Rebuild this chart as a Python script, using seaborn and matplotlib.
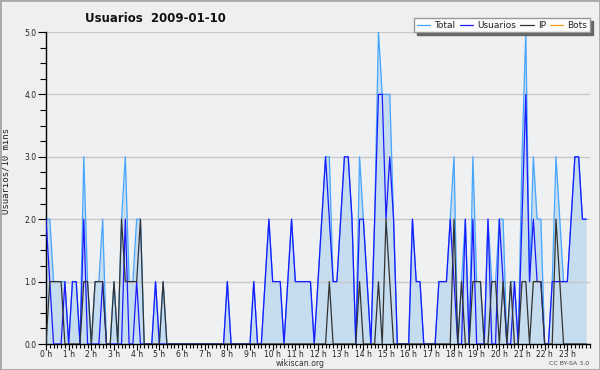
import matplotlib
matplotlib.use("Agg")
import matplotlib.pyplot as plt
import seaborn as sns
import pandas as pd
from matplotlib.patches import Rectangle

# one value per 10 minute slot, 2009-01-10 (6 per hour)
slots = list(range(144))
hour_ticks = list(range(0, 144, 6))
hour_labels = [f"{h} h" for h in range(24)]
y_ticks = [0, 1, 2, 3, 4, 5]
y_labels = ["0.0", "1.0", "2.0", "3.0", "4.0", "5.0"]

total = [2, 2, 1, 1, 1, 1,  0, 1, 1, 0, 3, 1,  0, 1, 1, 2, 0, 0,  1, 0, 2, 3, 1, 1,
         2, 2, 0, 0, 0, 1,  0, 1, 0, 0, 0, 0,  0, 0, 0, 0, 0, 0,  0, 0, 0, 0, 0, 0,
         1, 0, 0, 0, 0, 0,  0, 1, 0, 0, 1, 2,  1, 1, 1, 0, 1, 2,  1, 1, 1, 1, 1, 0,
         1, 2, 3, 3, 1, 1,  2, 3, 3, 2, 0, 3,  2, 1, 0, 2, 5, 4,  4, 4, 2, 0, 0, 0,
         0, 2, 1, 1, 0, 0,  0, 0, 1, 1, 1, 2,  3, 0, 1, 2, 0, 3,  1, 1, 0, 2, 1, 1,
         2, 2, 0, 1, 1, 0,  3, 5, 1, 3, 2, 2,  0, 0, 1, 3, 2, 1,  1, 2, 3, 3, 2, 2]

usuarios = [2, 1, 0, 0, 0, 1,  0, 1, 1, 0, 2, 0,  0, 0, 0, 1, 0, 0,  0, 0, 0, 2, 0, 0,
            1, 0, 0, 0, 0, 1,  0, 0, 0, 0, 0, 0,  0, 0, 0, 0, 0, 0,  0, 0, 0, 0, 0, 0,
            1, 0, 0, 0, 0, 0,  0, 1, 0, 0, 1, 2,  1, 1, 1, 0, 1, 2,  1, 1, 1, 1, 1, 0,
            1, 2, 3, 2, 1, 1,  2, 3, 3, 2, 0, 2,  2, 1, 0, 2, 4, 4,  2, 3, 2, 0, 0, 0,
            0, 2, 1, 1, 0, 0,  0, 0, 1, 1, 1, 2,  1, 0, 0, 2, 0, 2,  0, 0, 0, 2, 0, 0,
            2, 1, 0, 0, 1, 0,  2, 4, 1, 2, 1, 1,  0, 0, 1, 1, 1, 1,  1, 2, 3, 3, 2, 2]

ip = [0, 1, 1, 1, 1, 0,  0, 0, 0, 0, 1, 1,  0, 1, 1, 1, 0, 0,  1, 0, 2, 1, 1, 1,
      1, 2, 0, 0, 0, 0,  0, 1, 0, 0, 0, 0,  0, 0, 0, 0, 0, 0,  0, 0, 0, 0, 0, 0,
      0, 0, 0, 0, 0, 0,  0, 0, 0, 0, 0, 0,  0, 0, 0, 0, 0, 0,  0, 0, 0, 0, 0, 0,
      0, 0, 0, 1, 0, 0,  0, 0, 0, 0, 0, 1,  0, 0, 0, 0, 1, 0,  2, 1, 0, 0, 0, 0,
      0, 0, 0, 0, 0, 0,  0, 0, 0, 0, 0, 0,  2, 0, 1, 0, 0, 1,  1, 1, 0, 0, 1, 1,
      0, 1, 0, 1, 0, 0,  1, 1, 0, 1, 1, 1,  0, 0, 0, 2, 1, 0,  0, 0, 0, 0, 0, 0]

bots = [0] * 144

df = pd.DataFrame({"slot": slots, "Total": total, "Usuarios": usuarios,
                   "IP": ip, "Bots": bots})

sns.set_style("white")
plt.rcParams["font.family"] = ["DejaVu Sans"]

fig = plt.figure(figsize=(6, 3.7), dpi=100, facecolor="#efefef")
ax = fig.add_axes([46 / 600, 26 / 370, 544 / 600, 312 / 370])
ax.set_facecolor("#eef0f2")

ax.fill_between(df["slot"], df["Total"], color="#c6ddf0", linewidth=0, zorder=1)
sns.lineplot(data=df, x="slot", y="Bots", color="#ff9d1a", lw=0.9, ax=ax, zorder=0.5)
sns.lineplot(data=df, x="slot", y="Total", color="#45a5ff", lw=0.9, ax=ax, zorder=2)
sns.lineplot(data=df, x="slot", y="Usuarios", color="#1a1aff", lw=0.9, ax=ax, zorder=3)
sns.lineplot(data=df, x="slot", y="IP", color="#333333", lw=0.9, ax=ax, zorder=4)

ax.set_xlim(0, 144)
ax.set_ylim(0, 5)
ax.set_xticks(hour_ticks)
ax.set_xticklabels(hour_labels)
ax.set_xticks(range(145), minor=True)
ax.set_yticks(y_ticks)
ax.set_yticklabels(y_labels)
ax.set_yticks([v / 4 for v in range(21)], minor=True)
ax.tick_params(axis="x", which="major", length=4, width=0.8, pad=0.5,
               labelsize=5.5, color="black", direction="out", bottom=True)
ax.tick_params(axis="x", which="minor", length=3, width=0.8, color="black",
               direction="out", bottom=True)
ax.tick_params(axis="y", which="major", length=6, width=0.8, pad=1,
               labelsize=5.5, color="black", direction="out", left=True)
ax.tick_params(axis="y", which="minor", length=4, width=0.8, color="black",
               direction="out", left=True)
for lab in ax.get_xticklabels() + ax.get_yticklabels():
    lab.set_color("#222222")

ax.set_axisbelow("line")
ax.yaxis.grid(True, color="#c8c8c8", lw=1)
ax.xaxis.grid(False)
sns.despine(ax=ax)
for s in ["left", "bottom"]:
    ax.spines[s].set_color("black")
    ax.spines[s].set_linewidth(1)

ax.set_xlabel("")
ax.set_ylabel("Usuarios/10 mins", family="DejaVu Sans Mono", fontsize=6.5, color="#222222")
ax.yaxis.set_label_coords(-0.066, 0.555)

fig.text(85 / 600, 1 - 18.5 / 370, "Usuarios  2009-01-10", fontsize=8.5,
         fontweight="bold", ha="left", va="center", color="#111111")

handles = [plt.Line2D([], [], color=c, lw=0.9) for c in ["#45a5ff", "#1a1aff", "#333333", "#ff9d1a"]]
leg = fig.legend(handles, ["Total", "Usuarios", "IP", "Bots"], loc="upper right",
                 bbox_to_anchor=(590 / 600, 1 - 18 / 370), ncol=4, fontsize=6.5,
                 handlelength=1.5, handletextpad=0.45, columnspacing=0.45,
                 borderpad=0.3, borderaxespad=0, fancybox=False, frameon=True,
                 edgecolor="#999999", facecolor="#fbfbfb", framealpha=1,
                 shadow={"color": "#666666", "alpha": 1})
for t in leg.get_texts():
    t.set_color("#222222")

fig.text(300 / 600, 1 - 363 / 370, "wikiscan.org", fontsize=5.6, ha="center",
         va="center", color="#333333")
fig.text(589 / 600, 1 - 363.5 / 370, "CC BY-SA 3.0", fontsize=4.5, ha="right",
         va="center", color="#444444")

fig.patches.append(Rectangle((0, 0), 1, 1, transform=fig.transFigure, fill=False,
                             edgecolor="#a8a8a8", lw=2))

fig.savefig("out.png", dpi=100, facecolor=fig.get_facecolor())
